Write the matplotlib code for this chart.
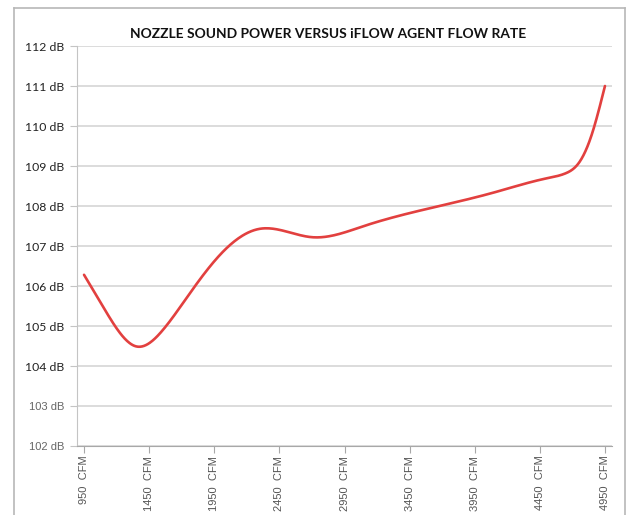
import numpy as np
import matplotlib
matplotlib.use("Agg")
import matplotlib.pyplot as plt
from matplotlib.lines import Line2D

# Values (flow in CFM, sound power in dB)
flow_cfm = [950, 1100, 1350, 1550, 1750, 2000, 2300, 2700, 3100,
            3600, 4100, 4500, 4650, 4750, 4850, 4950]
sound_db = [106.28, 105.46, 104.49, 104.88, 105.76, 106.80, 107.43, 107.22, 107.50,
            107.94, 108.34, 108.69, 108.82, 109.08, 109.80, 111.00]

tick_cfm = [950, 1450, 1950, 2450, 2950, 3450, 3950, 4450, 4950]
tick_labels = ["950  CFM", "1450  CFM", "1950  CFM", "2450  CFM", "2950  CFM",
               "3450  CFM", "3950  CFM", "4450  CFM", "4950  CFM"]
y_ticks = [102, 103, 104, 105, 106, 107, 108, 109, 110, 111, 112]
y_labels = ["102 dB", "103 dB", "104 dB", "105 dB", "106 dB", "107 dB",
            "108 dB", "109 dB", "110 dB", "111 dB", "112 dB"]
title = "NOZZLE SOUND POWER VERSUS iFLOW AGENT FLOW RATE"


def natural_spline(x, y, n=40):
    x = np.asarray(x, float)
    y = np.asarray(y, float)
    N = len(x)
    h = np.diff(x)
    A = np.zeros((N, N))
    b = np.zeros(N)
    A[0, 0] = 1.0
    A[-1, -1] = 1.0
    for i in range(1, N - 1):
        A[i, i - 1] = h[i - 1]
        A[i, i] = 2 * (h[i - 1] + h[i])
        A[i, i + 1] = h[i]
        b[i] = 6 * ((y[i + 1] - y[i]) / h[i] - (y[i] - y[i - 1]) / h[i - 1])
    M = np.linalg.solve(A, b)
    xs, ys = [], []
    for i in range(N - 1):
        t = np.linspace(x[i], x[i + 1], n, endpoint=False)
        a = x[i + 1] - t
        c = t - x[i]
        s = (M[i] * a ** 3 / (6 * h[i]) + M[i + 1] * c ** 3 / (6 * h[i])
             + (y[i] / h[i] - M[i] * h[i] / 6) * a
             + (y[i + 1] / h[i] - M[i + 1] * h[i] / 6) * c)
        xs.append(t)
        ys.append(s)
    xs.append([x[-1]])
    ys.append([y[-1]])
    return np.concatenate(xs), np.concatenate(ys)


fig = plt.figure(figsize=(6.28, 5.15), dpi=100)
ax = fig.add_axes([77 / 628, 69 / 515, 535 / 628, 400 / 515])

sx, sy = natural_spline(flow_cfm, sound_db)
ax.plot(sx, sy, color="#e2403f", lw=1.9, solid_capstyle="round", zorder=3)

ax.set_xlim(896, 5004)
ax.set_ylim(102, 112)
ax.set_yticks(y_ticks)
ax.set_yticklabels(y_labels, family="Lato", fontsize=8.8, color="#222222")
for lbl in ax.get_yticklabels()[:2]:
    lbl.set_color("#666666")
    lbl.set_family("Liberation Sans")
    lbl.set_fontsize(8)
ax.set_xticks(tick_cfm)
ax.set_xticklabels(tick_labels, rotation=90, family="Liberation Sans",
                   fontsize=8, color="#555555", va="top", ha="center")

ax.yaxis.grid(True, color="#d6d6d6", lw=1.2)
ax.set_axisbelow(True)
for s in ["top", "right"]:
    ax.spines[s].set_visible(False)
ax.spines["left"].set_color("#c4c4c4")
ax.spines["bottom"].set_color("#a8a8a8")
ax.tick_params(axis="y", length=5, color="#c4c4c4", pad=4)
ax.tick_params(axis="x", length=5, color="#a8a8a8", pad=2)

fig.text(328 / 628, 1 - 34 / 515, title, ha="center", va="center",
         family="Lato", fontweight="bold", fontsize=9.9, color="#111111")

# outer chart border
bc = "#b8b8b8"
fig.add_artist(Line2D([14 / 628, 14 / 628], [0, 1 - 8 / 515], color=bc, lw=1.2))
fig.add_artist(Line2D([14 / 628, 625 / 628], [1 - 8 / 515, 1 - 8 / 515], color=bc, lw=1.2))
fig.add_artist(Line2D([625 / 628, 625 / 628], [0, 1 - 8 / 515], color=bc, lw=1.2))

fig.savefig("out.png", dpi=100)
